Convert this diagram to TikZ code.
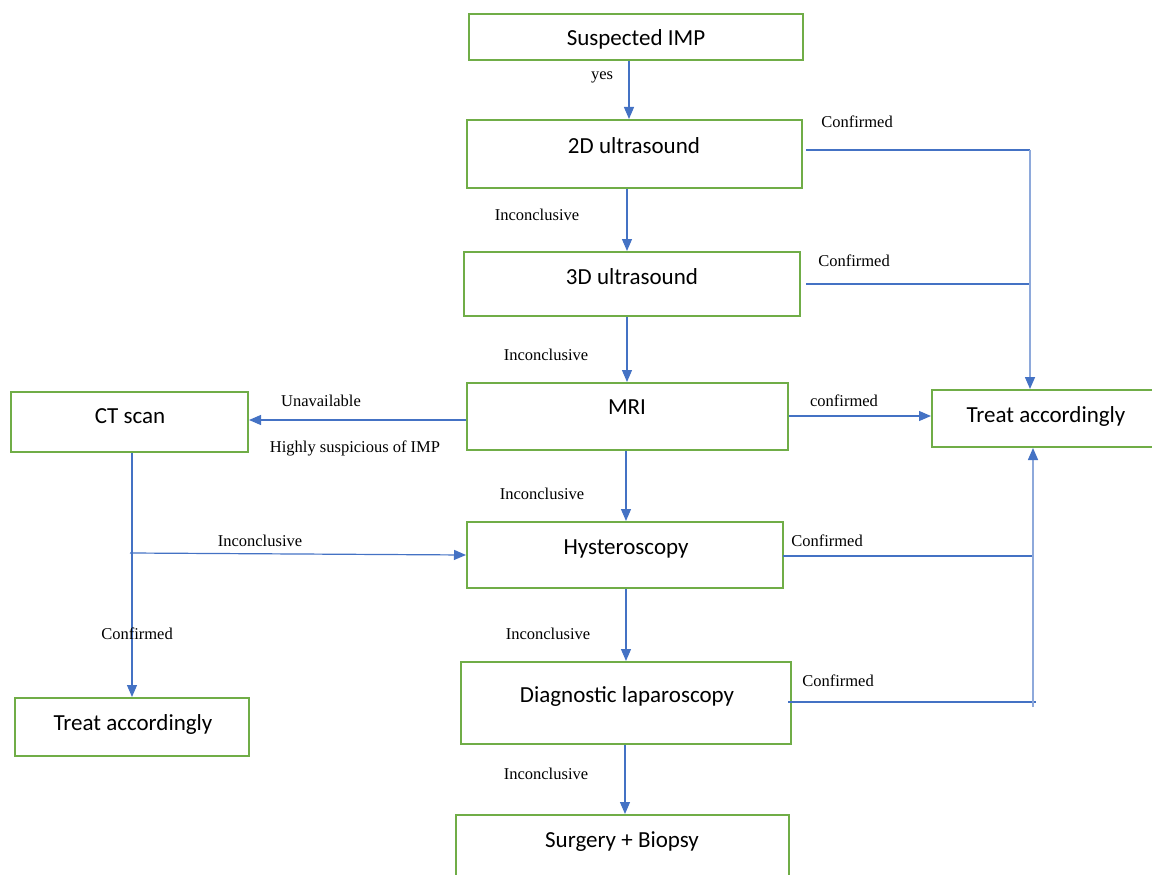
\documentclass[tikz,border=0pt]{standalone}
\usepackage{fontspec}
\setmainfont{Liberation Serif}
\newfontfamily\boxfont{Carlito}
\usetikzlibrary{arrows.meta}
\definecolor{bgreen}{HTML}{70AD47}
\definecolor{cblue}{HTML}{4472C4}
\definecolor{lblue}{HTML}{8EA9DB}
\tikzset{
  stepbox/.style={draw=bgreen, line width=2pt, inner sep=0pt, fill=white},
  boxtxt/.style={anchor=base, inner sep=0pt, font=\boxfont\fontsize{23}{27}\selectfont},
  lbl/.style={anchor=base, inner sep=0pt, font=\fontsize{16.5}{19}\selectfont},
  arr/.style={draw=cblue, line width=1.2pt, -{Triangle[length=12pt,width=10pt]}},
  arrl/.style={draw=lblue, line width=1.5pt, -{Triangle[length=12pt,width=10pt,color=cblue]}},
  conf/.style={draw=cblue, line width=2pt},
}
\begin{document}
\begin{tikzpicture}[x=1pt,y=-1pt]
\useasboundingbox (0,0) rectangle (1152,875);
% boxes
\node[stepbox, minimum width=334pt, minimum height=46pt] (s) at (636,37) {};
\node[stepbox, minimum width=335pt, minimum height=68pt] (u2) at (634.5,154) {};
\node[stepbox, minimum width=336pt, minimum height=64pt] (u3) at (632,284) {};
\node[stepbox, minimum width=321pt, minimum height=67pt] (mri) at (627.5,416.5) {};
\node[stepbox, minimum width=237pt, minimum height=60pt] (ct) at (129.5,422) {};
\node[stepbox, minimum width=228pt, minimum height=57pt] (tr) at (1046,418.5) {};
\node[stepbox, minimum width=316pt, minimum height=66pt] (hy) at (625,555) {};
\node[stepbox, minimum width=330pt, minimum height=82pt] (lap) at (626,703) {};
\node[stepbox, minimum width=234pt, minimum height=58pt] (tl) at (132,727) {};
\node[stepbox, minimum width=333pt, minimum height=75pt] (sb) at (622.5,852.5) {};
% box texts
\node[boxtxt] (ts) at (636,45.5) {Suspected IMP};
\node[boxtxt] (tu2) at (634,153.5) {2D ultrasound};
\node[boxtxt] (tu3) at (632,284.5) {3D ultrasound};
\node[boxtxt] (tmri) at (627,414.5) {MRI};
\node[boxtxt] (tct) at (130,423.5) {CT scan};
\node[boxtxt] (ttr) at (1046,422.5) {Treat accordingly};
\node[boxtxt] (thy) at (626,554.5) {Hysteroscopy};
\node[boxtxt] (tlap) at (627,702.5) {Diagnostic laparoscopy};
\node[boxtxt] (ttl) at (133,730.5) {Treat accordingly};
\node[boxtxt] (tsb) at (622,847.5) {Surgery + Biopsy};
% junction coordinates
\coordinate (j1) at (1030,150);
\coordinate (j2) at (1031,284);
\coordinate (j3) at (1032,556);
\coordinate (j4) at (1036,702);
\coordinate (j5) at (1033,707);
\coordinate (cb) at (130,553);
% vertical chain
\draw[arr] (s.south -| 629,0) -- (u2.north -| 629,0);
\draw[arr] (u2.south -| 627,0) -- (u3.north -| 627,0);
\draw[arr] (u3.south -| 627,0) -- (mri.north -| 627,0);
\draw[arr] (mri.south -| 626,0) -- (hy.north -| 626,0);
\draw[arr] (hy.south -| 626,0) -- (lap.north -| 626,0);
\draw[arr] (lap.south -| 625,0) -- (sb.north -| 625,0);
% MRI side arrows
\draw[arr] (mri.east |- 0,416) -- (tr.west |- 0,416);
\draw[arr] (mri.west |- 0,420) -- (ct.east |- 0,420);
% CT branch
\draw[arr] (ct.south -| 132,0) -- (tl.north -| 132,0);
\draw[arr] (cb) -- (hy.west |- 0,555);
% confirmed lines to right
\draw[conf] ([xshift=3pt]u2.east |- j1) -- (j1);
\draw[conf] ([xshift=5pt]u3.east |- j2) -- (j2);
\draw[arrl] (j1) -- (j1 |- tr.north);
\draw[conf] ([xshift=-1pt]hy.east |- j3) -- (j3);
\draw[conf] ([xshift=-4pt]lap.east |- j4) -- (j4);
\draw[arrl] (j5) -- (j5 |- tr.south);
% labels
\node[lbl] (l1) at (602,80) {yes};
\node[lbl] (l2) at (537,220) {Inconclusive};
\node[lbl] (l3) at (546,360) {Inconclusive};
\node[lbl] (l4) at (542,499) {Inconclusive};
\node[lbl] (l5) at (548,639) {Inconclusive};
\node[lbl] (l6) at (546,779) {Inconclusive};
\node[lbl] (l7) at (857,127) {Confirmed};
\node[lbl] (l8) at (854,266) {Confirmed};
\node[lbl] (l9) at (844,406) {confirmed};
\node[lbl] (l10) at (321,406) {Unavailable};
\node[lbl] (l11) at (355,452) {Highly suspicious of IMP};
\node[lbl] (l12) at (137,639) {Confirmed};
\node[lbl] (l13) at (260,546) {Inconclusive};
\node[lbl] (l14) at (827,546) {Confirmed};
\node[lbl] (l15) at (838,686) {Confirmed};
\end{tikzpicture}
\end{document}
